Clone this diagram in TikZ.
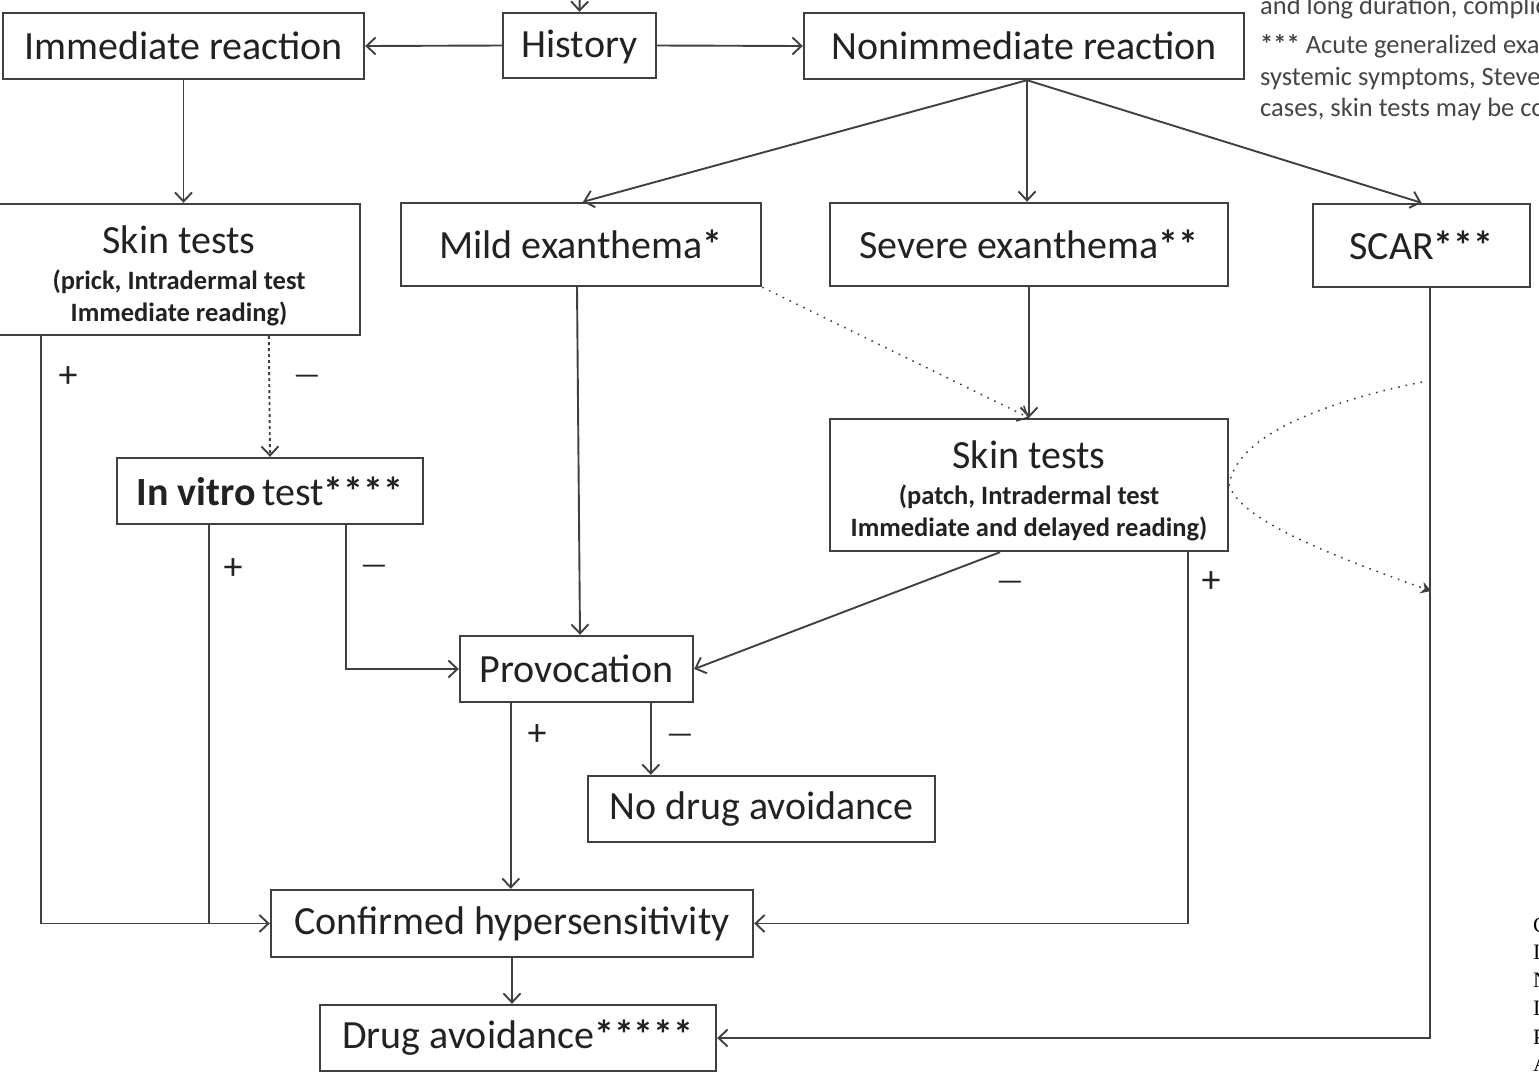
\documentclass[tikz,border=0pt]{standalone}
\usepackage{fontspec}
\setmainfont{Carlito}
\newfontfamily\edgefont{Liberation Serif}
\usetikzlibrary{arrows.meta,calc}
\definecolor{linegray}{HTML}{404040}
\definecolor{textgray}{HTML}{222222}
\definecolor{notegray}{HTML}{454545}
\tikzset{
  box/.style={draw=linegray,line width=2.4pt,fill=white,text=textgray,inner sep=0pt,
    font=\fontsize{40}{44}\selectfont,align=center},
  conn/.style={draw=linegray,line width=1.9pt,-{Straight Barb[length=9pt,width=17pt]}},
  plain/.style={draw=linegray,line width=1.9pt},
  dots/.style={draw=linegray,line width=1.5pt,dash pattern=on 1.6pt off 6pt},
  sign/.style={text=textgray,inner sep=0pt,font=\fontsize{38}{38}\selectfont},
  minus/.style={sign,font=\fontsize{30}{30}\selectfont,yshift=-4pt},
  note/.style={text=notegray,inner sep=0pt,anchor=base west,font=\fontsize{26.5}{30}\selectfont},
  edge letter/.style={text=black,inner sep=0pt,anchor=base west,font=\edgefont\fontsize{22}{24}\selectfont},
}
\newcommand{\subline}[1]{{\fontsize{26.5}{31}\selectfont\bfseries #1}}
\newcommand{\stars}[1]{{\bfseries #1}}
\begin{document}
\begin{tikzpicture}[x=1pt,y=-1pt]
\useasboundingbox (0,0) rectangle (1539,1080);
% boxes
\node[box,minimum width=361pt,minimum height=66pt] (imm) at (183.5,46) {Immediate reaction};
\node[box,minimum width=153pt,minimum height=65pt,text height=32pt,text depth=9pt] (hist) at (579.5,45.5) {History};
\node[box,minimum width=440pt,minimum height=66pt] (nonimm) at (1024,46) {Nonimmediate reaction};
\node[box,minimum width=362pt,minimum height=131pt] (skinI) at (179,269.5)
  {\rule{0pt}{40pt}Skin tests\\[-8pt]\subline{(prick, Intradermal test}\\[-12pt]\subline{Immediate reading)}};
\node[box,minimum width=360pt,minimum height=83pt] (mild) at (581,244.5) {Mild exanthema\stars{*}};
\node[box,minimum width=398pt,minimum height=83pt] (severe) at (1029,244.5) {Severe exanthema\stars{**}};
\node[box,minimum width=217pt,minimum height=83pt] (scar) at (1421.5,245.5) {SCAR\stars{***}};
\node[box,minimum width=306pt,minimum height=66pt] (vitro) at (270,491) {\textbf{In vitro}\,test\stars{****}};
\node[box,minimum width=398pt,minimum height=132pt] (skinN) at (1029,485)
  {\rule{0pt}{40pt}Skin tests\\[-8pt]\subline{(patch, Intradermal test}\\[-12pt]\subline{Immediate and delayed reading)}};
\node[box,minimum width=233pt,minimum height=66pt] (prov) at (576.5,669) {Provocation};
\node[box,minimum width=347pt,minimum height=66pt] (nodrug) at (761.5,809) {No drug avoidance};
\node[box,minimum width=482pt,minimum height=67pt] (conf) at (512,923.5) {Confirmed hypersensitivity};
\node[box,minimum width=396pt,minimum height=66pt] (avoid) at (518,1038) {Drug avoidance\stars{*****}};

% connectors
\coordinate (top) at (580,-30);
\draw[conn] (top) -- (hist.north);
\draw[conn] (hist.west) -- (imm.east);
\draw[conn] (hist.east) -- (nonimm.west);
\draw[conn] (imm.south) -- (imm.south |- skinI.north);
\coordinate (fan) at ($(nonimm.south)+(3,0)$);
\draw[conn] (fan) -- ($(mild.north)+(2,0)$);
\draw[conn] (fan) -- (fan |- severe.north);
\draw[conn] (fan) -- (scar.north);
\draw[conn,dashed] ($(skinI.south west)+(272,0)$) -- (vitro.north);
\draw[conn] ($(skinI.south west)+(44,0)$) |- (conf.west);
\coordinate (vplus) at ($(vitro.south west)+(93,0)$);
\draw[plain] (vplus) -- (vplus |- conf.west);
\coordinate (vminus) at ($(vitro.south west)+(230,0)$);
\draw[conn] (vminus) |- (prov.west);
\draw[conn] ($(mild.south)+(-4,0)$) -- ($(prov.north)+(3.5,0)$);
\draw[dots,-{Straight Barb[length=9pt,width=17pt]}] (mild.south east) -- (skinN.north);
\draw[conn] (severe.south) -- (skinN.north);
\draw[conn] ($(skinN.south)+(-29,0)$) -- (prov.east);
\coordinate (splus) at ($(skinN.south east)+(-41,0)$);
\draw[conn] (splus) |- (conf.east);
\coordinate (sc) at ($(scar.south)+(8.5,0)$);
\draw[conn] (sc) |- (avoid.east);
\coordinate (pplus) at ($(prov.south west)+(52,0)$);
\draw[conn] (pplus) -- (pplus |- conf.north);
\coordinate (pminus) at ($(nodrug.north west)+(64,0)$);
\draw[conn] (pminus |- prov.south) -- (pminus);
\draw[conn] (conf.south) -- (conf.south |- avoid.north);
% dotted bracket towards the SCAR line
\coordinate (brk) at (1422,382);
\coordinate (brkend) at (1431,591);
\draw[dots,-{Stealth[length=10pt,width=12pt]}] (brk) .. controls (1310,405) and (1235,440) .. (skinN.east)
  .. controls (1240,520) and (1330,555) .. (brkend);

% signs
\node[sign] (s1) at (68,377) {+};
\node[minus] (s2) at (307,376) {—};
\node[sign] (s3) at (233,569) {+};
\node[minus] (s4) at (374,566) {—};
\node[sign] (s5) at (537,735) {+};
\node[minus] (s6) at (680,735) {—};
\node[minus] (s7) at (1010,582) {—};
\node[sign] (s8) at (1211,582) {+};

% notes cut at the right edge
\node[note] (n1) at (1260,14) {and long duration, complic};
\node[note] (n2) at (1260,53) {\textbf{***} Acute generalized exan};
\node[note] (n3) at (1260,85) {systemic symptoms, Steven};
\node[note] (n4) at (1260,116) {cases, skin tests may be co};
\node[edge letter] (e1) at (1533,932) {C};
\node[edge letter] (e2) at (1533,959) {I};
\node[edge letter] (e3) at (1533,987) {N};
\node[edge letter] (e4) at (1533,1015) {I};
\node[edge letter] (e5) at (1533,1044) {P};
\node[edge letter] (e6) at (1533,1071) {A};
\end{tikzpicture}
\end{document}
